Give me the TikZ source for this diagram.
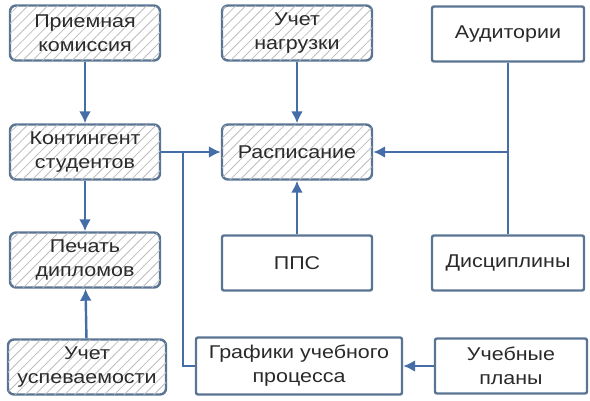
\documentclass[tikz,border=0pt]{standalone}
\usepackage{fontspec}
\setmainfont{Liberation Sans}[FakeStretch=1.16]
\usepackage{tikz}
\usetikzlibrary{arrows.meta,patterns.meta}
\definecolor{rim}{HTML}{5A7494}
\definecolor{wire}{HTML}{456EA8}
\definecolor{hatch}{HTML}{BEBEBE}
\definecolor{ink}{HTML}{2A2A2A}

\begin{document}
\begin{tikzpicture}[x=1pt,y=-1pt,
    block/.style={draw=rim, line width=2.4pt, fill=white, text=ink,
      minimum width=150pt, minimum height=55pt, align=center,
      font=\fontsize{18.5}{24}\selectfont},
    hatched/.style={block, rounded corners=6pt,
      postaction={pattern={Lines[angle=45,distance=7pt,line width=0.8pt]},
        pattern color=hatch}},
    plain/.style={block, rounded corners=2pt},
    link/.style={draw=wire, line width=2.4pt},
    arr/.style={link, -{Latex[length=12pt,width=12pt]}}]
\useasboundingbox (0,0) rectangle (590,400);
\node [hatched] (pk) at (85,33) {Приемная\\комиссия};
\node [hatched] (un) at (297,33) {Учет\\нагрузки};
\node [plain, minimum width=152pt] (aud) at (508,34) {Аудитории};
\node [hatched] (ks) at (85,152) {Контингент\\студентов};
\node [hatched] (rs) at (297,152) {Расписание};
\node [hatched] (pd) at (85,260) {Печать\\дипломов};
\node [plain] (pps) at (297,263) {ППС};
\node [plain, minimum width=152pt] (dis) at (508,263) {Дисциплины};
\node [hatched, minimum width=158pt] (uu) at (87,367) {Учет\\успеваемости};
\node [plain, minimum width=206pt, minimum height=57pt] (gr) at (299,366)
    {Графики учебного\\процесса};
\node [plain, minimum width=152pt] (up) at (511,366) {Учебные\\планы};
\coordinate (jk) at (183,152);
\coordinate (ja) at (aud |- rs);
\draw [arr] (pk) -- (ks);
\draw [arr] (ks) -- (pd);
\draw [arr] (uu) -- (pd);
\draw [arr] (un) -- (rs);
\draw [arr] (pps) -- (rs);
\draw [arr] (ks) -- (rs);
\draw [link] (aud) -- (dis);
\draw [arr] (ja) -- (rs);
\draw [link] (jk) |- (gr);
\draw [arr] (up) -- (gr);
\end{tikzpicture}
\end{document}
